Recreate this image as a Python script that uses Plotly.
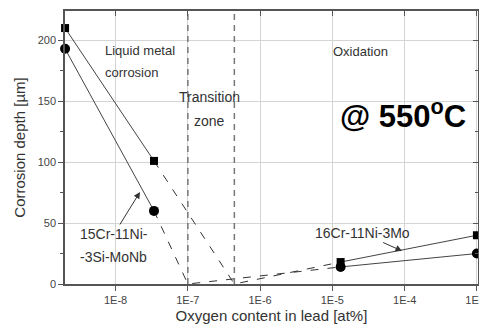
import plotly.graph_objects as go

# ---- data ----
x_liquid = [2e-9, 3.4e-8]
sq_liquid = [210, 101]      # 16Cr-11Ni-3Mo
ci_liquid = [193, 60]       # 15Cr-11Ni-3Si-MoNb

x_sq_trans = [3.4e-8, 4.4e-7, 1.3e-5]
sq_trans = [101, 0, 18]
x_ci_trans = [3.4e-8, 1e-7, 1.3e-5]
ci_trans = [60, 0, 14]

x_ox = [1.3e-5, 1e-3]
sq_ox = [18, 40]
ci_ox = [14, 25]

zone_bounds = [1e-7, 4.4e-7]

x_tickvals = [1e-8, 1e-7, 1e-6, 1e-5, 1e-4, 1e-3]
x_ticktext = ["1E-8", "1E-7", "1E-6", "1E-5", "1E-4", "1E-3"]
y_tickvals = [0, 50, 100, 150, 200]

x_range = [-8.70, -2.985]
y_range = [0, 224]

FONT = "Liberation Sans, Arial, sans-serif"
LINE = "#444444"

# page body has an 8px margin: figure occupies (8,8)-(487,324)
W, H = 479, 316
ML, MR, MT, MB = 57, 9, 3, 40
OFF = 8
PW = W - ML - MR
PH = H - MT - MB

fig = go.Figure()

for xb in zone_bounds:
    fig.add_trace(go.Scatter(x=[xb, xb], y=y_range, mode="lines",
                             line=dict(color="#777777", width=1.5, dash="6px,5px"),
                             hoverinfo="skip", showlegend=False))

fig.add_trace(go.Scatter(x=x_sq_trans, y=sq_trans, mode="lines",
                         line=dict(color="#333333", width=1, dash="8px,9px"), showlegend=False))
fig.add_trace(go.Scatter(x=x_ci_trans, y=ci_trans, mode="lines",
                         line=dict(color="#333333", width=1, dash="8px,9px"), showlegend=False))

for xs, ys, sym, sz in [(x_liquid, sq_liquid, "square", 8), (x_liquid, ci_liquid, "circle", 10),
                        (x_ox, sq_ox, "square", 8), (x_ox, ci_ox, "circle", 10)]:
    fig.add_trace(go.Scatter(x=xs, y=ys, mode="lines+markers",
                             line=dict(color=LINE, width=1),
                             marker=dict(symbol=sym, size=sz, color="black"),
                             cliponaxis=False, showlegend=False))

fig.add_trace(go.Scatter(x=[1e-5], y=[100], xaxis="x2", yaxis="y2", mode="markers",
                         marker=dict(opacity=0), hoverinfo="skip", showlegend=False))


def lx(px):
    # screen pixel -> log10 x
    return x_range[0] + (px - OFF - ML) / PW * (x_range[1] - x_range[0])


def dy(py):
    # screen pixel -> data y
    return (OFF + MT + PH - py) / PH * (y_range[1] - y_range[0])


txt = dict(family=FONT, color="#333333")
anns = [
    dict(x=lx(103), y=dy(50), text="Liquid metal", xanchor="left", font=dict(size=13, **txt)),
    dict(x=lx(103), y=dy(72), text="corrosion", xanchor="left", font=dict(size=13, **txt)),
    dict(x=lx(209), y=dy(97), text="Transition", font=dict(size=14, **txt)),
    dict(x=lx(209), y=dy(121), text="zone", font=dict(size=14, **txt)),
    dict(x=lx(360), y=dy(51), text="Oxidation", font=dict(size=13, **txt)),
    dict(x=lx(403), y=dy(114), text="<b>@ 550<sup>o</sup>C</b>",
         font=dict(size=31, family=FONT, color="black")),
    dict(x=lx(78), y=dy(257), text="-3Si-MoNb", xanchor="left", font=dict(size=14, **txt)),
]
for a in anns:
    a.update(xref="x", yref="y", showarrow=False)

arrow_labels = [
    dict(text="15Cr-11Ni-", x=lx(140), y=dy(192), ax=lx(114), ay=dy(234)),
    dict(text="16Cr-11Ni-3Mo", x=lx(402), y=dy(251), ax=lx(362), ay=dy(233)),
]
for a in arrow_labels:
    a.update(xref="x", yref="y", axref="x", ayref="y", showarrow=True,
             arrowhead=2, arrowsize=1.3, arrowwidth=1, arrowcolor="#333333",
             font=dict(size=14, **txt))
    anns.append(a)

fig.update_layout(
    width=W, height=H,
    margin=dict(l=ML, r=MR, t=MT, b=MB, autoexpand=False),
    paper_bgcolor="white", plot_bgcolor="white",
    font=dict(family=FONT, color="#444444"),
    annotations=anns,
    xaxis=dict(type="log", range=x_range, tickvals=x_tickvals, ticktext=x_ticktext,
               showgrid=True, gridcolor="#d4d4d4", gridwidth=1, zeroline=False,
               showline=True, linecolor="#555555", linewidth=1.5,
               ticks="outside", ticklen=5, tickcolor="#555555",
               ticklabeloverflow="allow",
               tickfont=dict(size=11, color="#444444"),
               title=dict(text="Oxygen content in lead [at%]", font=dict(size=15, color="#333333"),
                          standoff=6)),
    yaxis=dict(range=y_range, tickvals=y_tickvals,
               showgrid=True, gridcolor="#d4d4d4", gridwidth=1, zeroline=False,
               showline=True, linecolor="#555555", linewidth=1.5,
               ticks="outside", ticklen=5, tickcolor="#555555",
               minor=dict(dtick=25, ticks="outside", ticklen=3, tickcolor="#555555", showgrid=False),
               tickfont=dict(size=11, color="#444444"),
               title=dict(text="Corrosion depth [µm]", font=dict(size=15, color="#333333"),
                          standoff=8)),
    xaxis2=dict(type="log", range=x_range, overlaying="x", side="top", tickvals=x_tickvals,
                showticklabels=False, showgrid=False, zeroline=False,
                showline=True, linecolor="#555555", linewidth=1.5,
                ticks="inside", ticklen=5, tickcolor="#555555"),
    yaxis2=dict(range=y_range, overlaying="y", side="right", tickvals=y_tickvals,
                showticklabels=False, showgrid=False, zeroline=False,
                showline=True, linecolor="#555555", linewidth=1.5,
                ticks="inside", ticklen=5, tickcolor="#555555",
                minor=dict(dtick=25, ticks="inside", ticklen=3, tickcolor="#555555", showgrid=False)),
)

fig.write_html("out.html")
